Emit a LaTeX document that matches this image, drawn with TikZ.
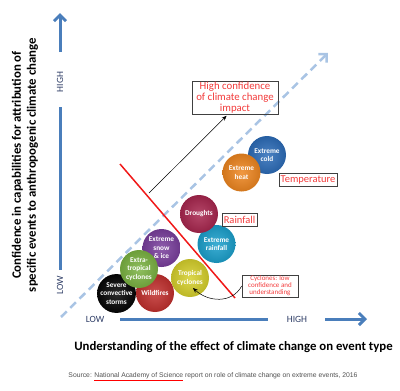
\documentclass[tikz,border=0pt]{standalone}
\usepackage{fontspec}
\setmainfont{Carlito}
\newfontfamily\sourcefont{Liberation Sans}
\usetikzlibrary{arrows.meta}
\definecolor{axisblue}{HTML}{4A7EBB}
\definecolor{dashblue}{HTML}{A9C4E4}
\definecolor{lowhigh}{HTML}{2E3D66}
\definecolor{notered}{HTML}{F23A3A}
\definecolor{linered}{HTML}{F01818}
\definecolor{coldblue}{HTML}{2C6CB8}
\definecolor{heatorange}{HTML}{EE8620}
\definecolor{droughtred}{HTML}{A8264E}
\definecolor{rainteal}{HTML}{1BA0CC}
\definecolor{tropyellow}{HTML}{D6D02C}
\definecolor{snowpurple}{HTML}{7A3F9D}
\definecolor{extragreen}{HTML}{7BB342}
\definecolor{stormblack}{HTML}{050505}
\definecolor{firered}{HTML}{C1302E}
\definecolor{sourcegray}{HTML}{505050}

\begin{document}
\begin{tikzpicture}[x=1pt,y=-1pt,
    bubble/.style={circle,minimum size=38pt,inner sep=0pt,
      inner color=#1!85!white,outer color=#1!88!black,text=white,align=center,
      font=\fontsize{7.3}{8.6}\selectfont\bfseries},
    tagbox/.style={draw=black!75,line width=0.5pt,text=notered,align=center,inner sep=1.5pt},
    axislabel/.style={text=lowhigh,font=\fontsize{9.5}{11}\selectfont},
    axisline/.style={draw=axisblue,line width=3pt},
    axisarrow/.style={axisline,-{Straight Barb[length=6pt,width=12pt]}},
    thinarrow/.style={line width=0.5pt,-{Stealth[length=5pt,width=4pt]}}]
  \useasboundingbox (0,0) rectangle (400,391);

  \coordinate (ytip) at (60,13);
  \coordinate (ytop) at (60,52);
  \coordinate (ymid) at (60,107);
  \coordinate (ybot) at (60,270);
  \coordinate (xleft) at (120,319);
  \coordinate (xright) at (268,319);
  \coordinate (xarr) at (325,319);
  \coordinate (xtip) at (367,319);
  \coordinate (dstart) at (61,317);
  \coordinate (dtip) at (328,53);
  \coordinate (rtop) at (120,164);
  \coordinate (rbot) at (235,298);
  \coordinate (astart) at (149,193);
  \coordinate (cyctip) at (193,288);

  \draw
    (60,82) node[axislabel,rotate=90] (yhigh){HIGH}
    (60,285) node[axislabel,rotate=90] (ylow){LOW}
    (95,319) node[axislabel] (xlow){LOW}
    (297,319) node[axislabel] (xhigh){HIGH};
  \draw[axisarrow] (ytop) -- (ytip);
  \draw[axisline] (ymid) -- (ybot);
  \draw[axisline] (xleft) -- (xright);
  \draw[axisarrow] (xarr) -- (xtip);

  \draw[dashblue,line width=2.5pt,dash pattern=on 8pt off 5pt,-{Straight Barb[length=6pt,width=12pt]}] (dstart) -- (dtip);
  \draw[linered,line width=1.5pt] (rtop) -- (rbot);

  \draw
    (161.5,248) node[bubble=snowpurple] (snow){Extreme\\snow\\\& ice}
    (116.5,293.5) node[bubble=stormblack] (storms){Severe\\convective\\storms}
    (155,293) node[bubble=firered] (fires){Wildfires}
    (139,269) node[bubble=extragreen] (extra){Extra-\\tropical\\cyclones}
    (190,278) node[bubble=tropyellow] (tropical){Tropical\\cyclones}
    (216.5,244) node[bubble=rainteal] (rain){Extreme\\rainfall}
    (199,214) node[bubble=droughtred] (drought){Droughts}
    (267,155) node[bubble=coldblue] (cold){Extreme\\cold}
    (241.5,172.5) node[bubble=heatorange] (heat){Extreme\\heat};

  \draw
    (235,97.5) node[tagbox,font=\fontsize{10.8}{11}\selectfont,minimum width=86pt,inner sep=1pt] (impact){High confidence\\of climate change\\impact}
    (308,179.5) node[tagbox,font=\fontsize{10.5}{11}\selectfont,minimum width=58pt,minimum height=13pt,inner sep=0.5pt] (temp){Temperature}
    (239.5,219.5) node[tagbox,font=\fontsize{10.5}{11}\selectfont,minimum width=35pt,minimum height=13pt,inner sep=0.5pt] (rainlbl){Rainfall}
    (270,286) node[tagbox,font=\fontsize{7}{6.9}\selectfont,minimum width=56pt,inner sep=1pt] (cycnote){Cyclones: low\\confidence and\\understanding};

  \begin{scope}[thinarrow]
    \draw[shorten >=2pt] (astart) -- ([xshift=-7pt]impact.south);
    \draw (cycnote.west) .. controls +(-10,18) and +(15,14) .. (cyctip);
  \end{scope}

  \draw
    (25,165) node[font=\fontsize{12.8}{15}\selectfont\bfseries,align=center,rotate=90] (ytitle){Confidence in capabilities for attribution of\\specific events to anthropogenic climate change}
    (233.5,347) node[font=\fontsize{12.8}{14}\selectfont\bfseries] (xtitle){Understanding of the effect of climate change on event type}
    (213,377) node[font=\sourcefont\fontsize{6.8}{8}\selectfont,text=sourcegray] (source){Source: \textcolor{red}{$\underline{\hbox{\color{sourcegray}National Academy of Science}}$} report on role of climate change on extreme events, 2016};
\end{tikzpicture}
\end{document}
